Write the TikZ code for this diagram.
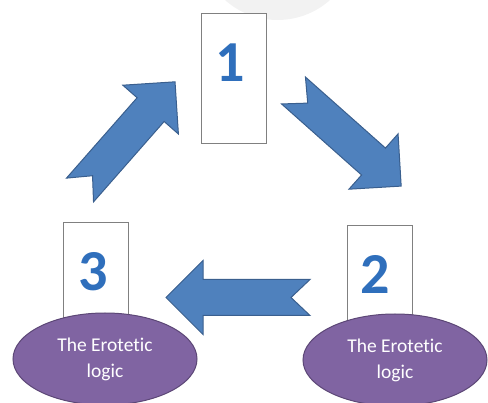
\documentclass[tikz,border=0pt]{standalone}
\usepackage{fontspec}
\setmainfont[Ligatures=NoCommon]{Carlito}
\usepackage{tikz}
\usetikzlibrary{shapes.geometric}

\definecolor{arrowfill}{HTML}{4F81BD}
\definecolor{arrowline}{HTML}{3A5F8E}
\definecolor{ovalfill}{HTML}{8064A2}
\definecolor{ovalline}{HTML}{5C4776}
\definecolor{numblue}{HTML}{2F6FBC}
\definecolor{haze}{HTML}{F2F2F2}

\tikzset{
  card/.style={draw=gray, line width=0.8pt, fill=white, minimum width=65pt, minimum height=130pt, inner sep=0pt},
  oval/.style={ellipse, draw=ovalline, line width=1pt, fill=ovalfill, text=white, align=center,
    minimum width=184pt, minimum height=92pt, inner sep=0pt, font=\fontsize{19.5}{26}\selectfont},
  number/.style={font=\fontsize{58}{58}\selectfont\bfseries, text=numblue, inner sep=0pt},
  pics/blockarrow/.style={code={
    \draw[arrowline, line width=1pt, fill=arrowfill, line join=miter]
      (0,18) -- (107,18) -- (107,37) -- (144,0) -- (107,-37) -- (107,-18) -- (0,-18) -- (19,0) -- cycle;}}
}

\begin{document}
\begin{tikzpicture}[x=1pt,y=-1pt]
  \useasboundingbox (0,0) rectangle (488,403);
  \fill[haze] (277.5,-59) circle (79);

  \node[card] (box1) at (233.5,78) {};
  \node[card] (box3) at (96,287) {};
  \node[card] (box2) at (380,290) {};
  \node[number] (num1) at ([xshift=-3pt,yshift=-50pt]box1.north) {1};
  \node[number] (num3) at ([xshift=-3pt,yshift=-50pt]box3.north) {3};
  \node[number] (num2) at ([xshift=-5pt,yshift=-50pt]box2.north) {2};

  \node[oval] (logic3) at (105,359) {The Erotetic\\logic};
  \node[oval] (logic2) at (395,360) {The Erotetic\\logic};

  \coordinate (tail31) at (80,190);
  \coordinate (tail12) at (293.5,90.5);
  \coordinate (tail23) at (310,297.5);
  \pic[rotate=48.7] at (tail31) {blockarrow};
  \pic[rotate=-41.6] at (tail12) {blockarrow};
  \pic[rotate=180] at (tail23) {blockarrow};
\end{tikzpicture}
\end{document}
